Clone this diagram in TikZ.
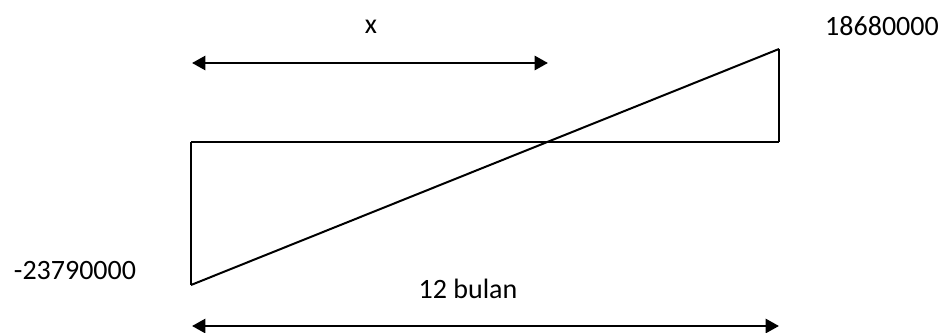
\documentclass[tikz,border=0pt]{standalone}
\usepackage{fontspec}
\setmainfont{Carlito}
\usetikzlibrary{arrows.meta, positioning}

\begin{document}
\begin{tikzpicture}[
    x=0.75pt, y=-0.75pt, >={Triangle[length=10pt, width=10.5pt]},
    label/.style = {inner sep=0pt, font=\fontsize{21}{25}\selectfont},
    line/.style = {draw, line width=1.5pt},
    dimarrow/.style = {draw, <->, line width=2pt}
]
    \useasboundingbox (0,0) rectangle (946,332);
    % points of the diagram
    \coordinate (topL) at (191,142);
    \coordinate (topR) at (779,142);
    \coordinate (botL) at (191,285);
    \coordinate (peak) at (779,49);
    \coordinate (xL) at (192,63);
    \coordinate (xR) at (548,63);
    \coordinate (spanL) at (192,326);
    \coordinate (spanR) at (779,326);
    % labels
    \node [label] (xlab) at (371,27) {x};
    \node [label] (maxlab) at (882,26) {18680000};
    \node [label] (minlab) at (75,271) {-23790000};
    \node [label] (spanlab) at (468,289) {12 bulan};

    \draw [line] (topL) -- (topR);
    \draw [line] (topL) -- (botL);
    \draw [line] (botL) -- (peak);
    \draw [line] (peak) -- (topR);
    \draw [dimarrow] (xL) -- (xR);
    \draw [dimarrow] (spanL) -- (spanR);
\end{tikzpicture}
\end{document}
